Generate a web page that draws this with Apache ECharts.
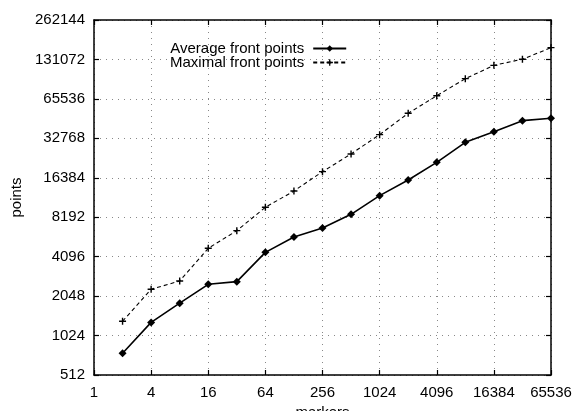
<!DOCTYPE html>
<html>
<head>
<meta charset="utf-8">
<script src="https://cdn.jsdelivr.net/npm/echarts@6/dist/echarts.min.js"></script>
<style>
  html, body { margin: 0; padding: 0; background: #fff; }
  #chart { width: 574px; height: 411px; }
</style>
</head>
<body>
<div id="chart"></div>
<script>
// markers (x) at powers of two
const markers = [2, 4, 8, 16, 32, 64, 128, 256, 512, 1024, 2048, 4096, 8192, 16384, 32768, 65536];
// average / maximal number of front points
const averagePoints = [750, 1290, 1810, 2520, 2640, 4420, 5790, 6780, 8620, 11970, 15760, 21500, 30560, 36850, 44700, 46600];
const maximalPoints = [1317, 2310, 2670, 4745, 6470, 9750, 12990, 18240, 24900, 34950, 50900, 69300, 93500, 118200, 131500, 161300];

const fontFamily = '"Liberation Sans", Arial, sans-serif';
const plusPath = 'path://M4,0h2v4h4v2h-4v4h-2v-4h-4v-2h4z';

const myChart = echarts.init(document.getElementById('chart'));

// shared axis look (gnuplot style box with inner ticks)
const axisBase = {
    axisLine: { show: true, lineStyle: { color: '#000', width: 1.5 } },
    axisTick: { show: true, inside: true, length: 5, lineStyle: { color: '#000', width: 1.2 } },
    minorTick: { show: false },
    splitLine: { show: false }
};

const labelFmt = v => String(Math.round(v));

const option = {
    animation: false,
    backgroundColor: '#fff',
    textStyle: { fontFamily },
    // no auto shrinking, the x name runs off the bottom like in the scan
    grid: { left: 94, right: 23, top: 20, bottom: 36, containLabel: false, outerBoundsMode: 'none' },
    legend: {
        orient: 'vertical',
        left: 165,
        top: 36,
        align: 'right',
        itemWidth: 33,
        itemHeight: 8,
        itemGap: -1,
        textStyle: { fontSize: 15, lineHeight: 13, color: '#000', fontFamily, padding: [0, 4, 0, 0] },
        data: ['Average front points', 'Maximal front points']
    },
    xAxis: [
        Object.assign({}, axisBase, {
            type: 'log', logBase: 4, min: 1, max: 65536, interval: 1,
            position: 'bottom',
            name: 'markers', nameLocation: 'middle', nameGap: 27,
            nameTextStyle: { fontSize: 15, color: '#000' },
            axisLabel: { fontSize: 15, color: '#000', margin: 10, formatter: labelFmt },
            splitLine: { show: true, lineStyle: { color: '#888', type: [1, 5], width: 1 } }
        }),
        Object.assign({}, axisBase, {
            type: 'log', logBase: 4, min: 1, max: 65536, interval: 1,
            position: 'top',
            axisLabel: { show: false }
        })
    ],
    yAxis: [
        Object.assign({}, axisBase, {
            type: 'log', logBase: 2, min: 512, max: 262144, interval: 1,
            position: 'left',
            name: 'points', nameLocation: 'middle', nameGap: 70,
            nameTextStyle: { fontSize: 15, color: '#000' },
            axisLabel: { fontSize: 15, color: '#000', margin: 9, formatter: labelFmt },
            splitLine: { show: true, lineStyle: { color: '#888', type: [1, 5], width: 1 } }
        }),
        Object.assign({}, axisBase, {
            type: 'log', logBase: 2, min: 512, max: 262144, interval: 1,
            position: 'right',
            axisLabel: { show: false }
        })
    ],
    series: [
        {
            name: 'Average front points',
            type: 'line',
            data: markers.map((m, i) => [m, averagePoints[i]]),
            symbol: 'diamond',
            symbolSize: 8,
            lineStyle: { color: '#000', width: 1.6 },
            itemStyle: { color: '#000' }
        },
        {
            name: 'Maximal front points',
            type: 'line',
            data: markers.map((m, i) => [m, maximalPoints[i]]),
            symbol: plusPath,
            symbolSize: 7,
            lineStyle: { color: '#000', width: 1.1, type: [4, 3] },
            itemStyle: { color: '#000' }
        }
    ]
};

myChart.setOption(option);
</script>
</body>
</html>
